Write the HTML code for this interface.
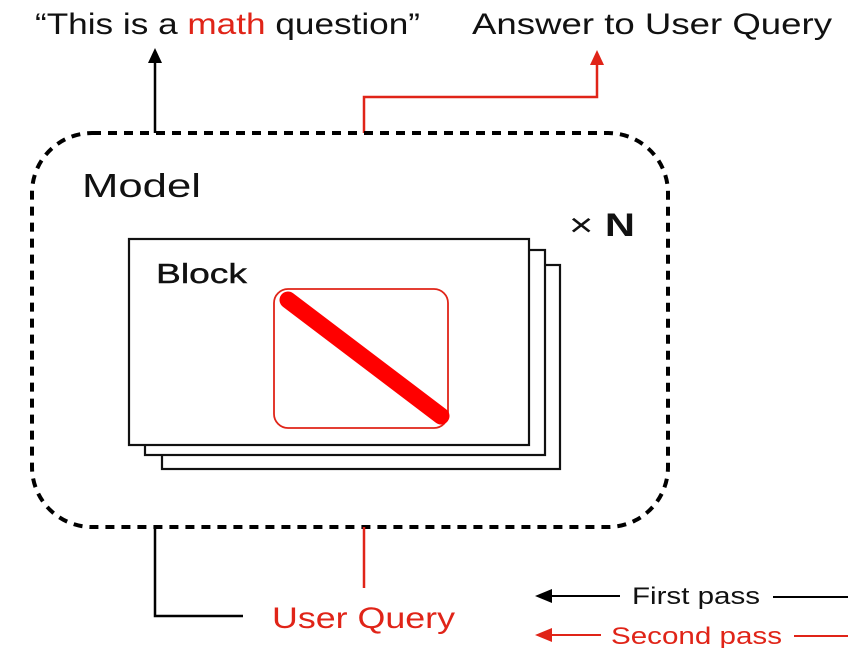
<!DOCTYPE html>
<html><head><style>html,body{margin:0;padding:0;background:#fff;}svg{display:block}</style></head>
<body>
<svg width="858" height="648" viewBox="0 0 858 648" xmlns="http://www.w3.org/2000/svg" font-family="'Liberation Sans', Arial, sans-serif">
<rect width="858" height="648" fill="#fff"/>
<text x="35" y="34" font-size="30" fill="#111" textLength="385" lengthAdjust="spacingAndGlyphs">“This is a <tspan fill="#e02418">math</tspan> question”</text>
<text x="472" y="34" font-size="30" fill="#111" textLength="360" lengthAdjust="spacingAndGlyphs">Answer to User Query</text>
<line x1="155" y1="133" x2="155" y2="62" stroke="#000" stroke-width="2.5"/>
<polygon points="155,48 148,63 162,63" fill="#000"/>
<polyline points="364,133 364,97 597,97 597,64" fill="none" stroke="#e02418" stroke-width="2.5"/>
<polygon points="597,50 590,65 604,65" fill="#e02418"/>
<rect x="32" y="133" width="636" height="394" rx="60" fill="none" stroke="#000" stroke-width="4" stroke-dasharray="9 7"/>
<text x="82" y="197" font-size="33" fill="#111" textLength="119" lengthAdjust="spacingAndGlyphs">Model</text>
<text x="569" y="236" font-size="32" fill="#111" textLength="66" lengthAdjust="spacingAndGlyphs">× <tspan font-weight="bold">N</tspan></text>
<rect x="162" y="265" width="398" height="204" fill="#fff" stroke="#111" stroke-width="2.2"/>
<rect x="145" y="250" width="400" height="205" fill="#fff" stroke="#111" stroke-width="2.2"/>
<rect x="129" y="239" width="400" height="206" fill="#fff" stroke="#111" stroke-width="2.2"/>
<text x="156" y="283" font-size="28" fill="#111" stroke="#111" stroke-width="0.4" textLength="91" lengthAdjust="spacingAndGlyphs">Block</text>
<rect x="274" y="289" width="174" height="139" rx="14" fill="#fff" stroke="#e02418" stroke-width="1.8"/>
<line x1="288" y1="300" x2="441" y2="416" stroke="#ff0000" stroke-width="17" stroke-linecap="round"/>
<polyline points="155,527 155,616 243,616" fill="none" stroke="#000" stroke-width="2.5"/>
<line x1="364" y1="527" x2="364" y2="588" stroke="#e02418" stroke-width="2.5"/>
<text x="272" y="628" font-size="30" fill="#e02418" textLength="183" lengthAdjust="spacingAndGlyphs">User Query</text>
<line x1="548" y1="596" x2="620" y2="596" stroke="#000" stroke-width="2"/>
<polygon points="535,596 552,589 552,603" fill="#000"/>
<text x="632" y="604" font-size="24" fill="#111" textLength="128" lengthAdjust="spacingAndGlyphs">First pass</text>
<line x1="773" y1="597" x2="848" y2="597" stroke="#000" stroke-width="2"/>
<line x1="548" y1="635" x2="601" y2="635" stroke="#e02418" stroke-width="2"/>
<polygon points="535,635 552,628 552,642" fill="#e02418"/>
<text x="611" y="644" font-size="24" fill="#e02418" textLength="171" lengthAdjust="spacingAndGlyphs">Second pass</text>
<line x1="794" y1="636" x2="848" y2="636" stroke="#e02418" stroke-width="2"/>
</svg>
</body></html>
